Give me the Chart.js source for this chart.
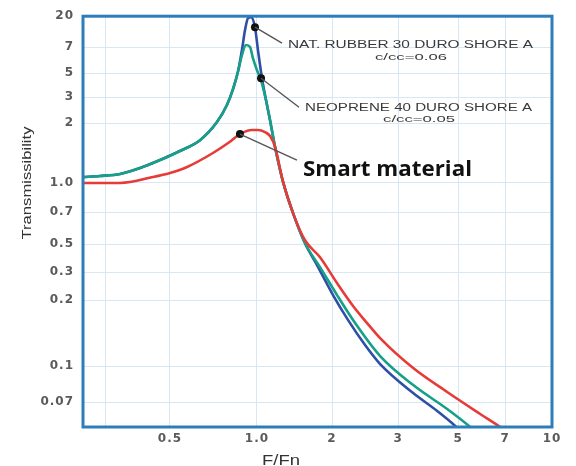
<!DOCTYPE html>
<html>
<head>
<meta charset="utf-8">
<script src="https://cdn.jsdelivr.net/npm/chart.js@4/dist/chart.umd.min.js"></script>
<style>
    html, body { margin: 0; padding: 0; background: #fff; }
</style>
</head>
<body>
<canvas id="transmissibility-chart" width="576" height="466"></canvas>
<script>
"use strict";

// curves: F/Fn and transmissibility
var rubberF = [0.25, 0.286, 0.336, 0.394, 0.462, 0.541, 0.635, 0.727, 0.787, 0.826, 0.860, 0.887, 0.909, 0.931, 0.953, 0.984, 1.009, 1.047, 1.087, 1.128, 1.181, 1.272, 1.395, 1.558, 1.741, 2.012, 2.207, 2.449, 2.686, 3.409, 4.182, 4.874, 5.036];
var rubberT = [1.071, 1.084, 1.110, 1.189, 1.304, 1.447, 1.64, 2.03, 2.65, 3.56, 5.13, 6.73, 12.45, 18.69, 19.33, 13.78, 6.73, 4.50, 2.86, 2.09, 1.52, 1.012, 0.693, 0.505, 0.341, 0.215, 0.162, 0.1247, 0.1021, 0.0765, 0.062, 0.0507, 0.048];

var neopreneF = [0.25, 0.286, 0.336, 0.394, 0.462, 0.541, 0.635, 0.727, 0.787, 0.826, 0.860, 0.887, 0.916, 0.946, 0.968, 1.0, 1.038, 1.087, 1.128, 1.181, 1.272, 1.395, 1.558, 1.790, 2.062, 2.304, 2.686, 3.409, 4.552, 5.449, 5.607];
var neopreneT = [1.071, 1.084, 1.110, 1.189, 1.304, 1.447, 1.64, 2.03, 2.65, 3.56, 5.13, 6.31, 7.49, 7.0, 6.07, 5.20, 4.30, 2.86, 2.09, 1.52, 1.012, 0.693, 0.505, 0.329, 0.215, 0.157, 0.111, 0.0828, 0.0637, 0.05, 0.0476];

var smartF = [0.25, 0.336, 0.437, 0.5, 0.573, 0.704, 0.806, 0.873, 0.961, 1.009, 1.077, 1.128, 1.181, 1.272, 1.395, 1.558, 1.790, 2.062, 2.275, 2.480, 2.686, 3.409, 4.552, 5.852, 6.755, 7.0];
var smartT = [1.0, 1.0, 1.071, 1.122, 1.203, 1.414, 1.61, 1.76, 1.845, 1.845, 1.80, 1.72, 1.52, 1.012, 0.693, 0.521, 0.394, 0.256, 0.188, 0.157, 0.134, 0.098, 0.0773, 0.0596, 0.05, 0.0476];

// black dots the labels point at
var calloutF = [0.984, 1.038, 0.873];
var calloutT = [13.78, 4.50, 1.76];

// tick labels
var xTicks = [0.3, 0.5, 1, 2, 3, 5, 7, 10];
var xTickLabels = ['', '0.5', '1.0', '2', '3', '5', '7', '10'];
var yTicks = [0.07, 0.1, 0.2, 0.3, 0.5, 0.7, 1, 2, 3, 5, 7, 20];
var yTickLabels = ['0.07', '0.1', '0.2', '0.3', '0.5', '0.7', '1.0', '2', '3', '5', '7', '20'];

// the printed axes are not evenly logarithmic, so map them piece by piece
// [value, fraction of axis length]
var xStops = [[0.25, 0], [0.5, 0.1855], [1, 0.371], [2, 0.531], [3, 0.672], [5, 0.8], [7, 0.9], [10, 1]];
var yStops = [[0.05, 0], [0.07, 0.0608], [0.1, 0.1484], [0.2, 0.309], [0.3, 0.377], [0.5, 0.445], [0.7, 0.523], [1, 0.594], [2, 0.740], [3, 0.803], [5, 0.861], [7, 0.925], [20, 1]];

function warp(stops, v) {
    var i = 0;
    while (i < stops.length - 2 && v > stops[i + 1][0]) i++;
    var a = stops[i], b = stops[i + 1];
    return a[1] + (b[1] - a[1]) * Math.log(v / a[0]) / Math.log(b[0] / a[0]);
}

function points(fs, ts) {
    return fs.map(function (f, i) {
        return { x: warp(xStops, f), y: warp(yStops, ts[i]) };
    });
}

// label text for each callout dot, offsets in px from the dot
var callouts = [
    { line: [27, 16], lines: [
        { text: 'NAT. RUBBER 30 DURO SHORE A', dx: 33, dy: 21, w: 245, font: '10px "Liberation Sans"', align: 'left' },
        { text: 'c/cc=0.06', dx: 156, dy: 33, w: 72, font: '9px "Liberation Sans"', align: 'center' }
    ] },
    { line: [38, 29], lines: [
        { text: 'NEOPRENE 40 DURO SHORE A', dx: 44, dy: 33, w: 227, font: '10px "Liberation Sans"', align: 'left' },
        { text: 'c/cc=0.05', dx: 158, dy: 44, w: 72, font: '9px "Liberation Sans"', align: 'center' }
    ] },
    { line: [57, 26], lines: [
        { text: 'Smart material', dx: 63, dy: 42, w: 169, font: 'bold 21px "Open Sans"', align: 'left', color: '#111' }
    ] }
];

function stretchText(ctx, text, x, y, w, font, color, align, rot) {
    ctx.save();
    ctx.letterSpacing = '0px';
    ctx.font = font;
    ctx.fillStyle = color;
    ctx.textBaseline = 'alphabetic';
    ctx.textAlign = align;
    var m = ctx.measureText(text).width;
    ctx.translate(x, y);
    if (rot) ctx.rotate(rot);
    ctx.scale(w / m, 1);
    ctx.fillText(text, 0, 0);
    ctx.restore();
}

var decorPlugin = {
    id: 'decor',
    beforeDraw: function (chart) {
        // printed tick numbers are wide, space them out a little
        chart.ctx.letterSpacing = '1px';
    },
    afterDatasetsDraw: function (chart) {
        var ctx = chart.ctx;
        var area = chart.chartArea;
        var xs = chart.scales.x, ys = chart.scales.y;

        // leader lines + labels
        calloutF.forEach(function (f, i) {
            var px = xs.getPixelForValue(warp(xStops, f));
            var py = ys.getPixelForValue(warp(yStops, calloutT[i]));
            var c = callouts[i];
            ctx.save();
            ctx.strokeStyle = '#555';
            ctx.lineWidth = 1.4;
            ctx.beginPath();
            ctx.moveTo(px, py);
            ctx.lineTo(px + c.line[0], py + c.line[1]);
            ctx.stroke();
            ctx.restore();
            c.lines.forEach(function (l) {
                stretchText(ctx, l.text, px + l.dx, py + l.dy, l.w, l.font, l.color || '#3a3a3a', l.align);
            });
        });

        // frame
        ctx.save();
        ctx.strokeStyle = '#2d7dba';
        ctx.lineWidth = 3;
        ctx.strokeRect(area.left, area.top, area.right - area.left, area.bottom - area.top);
        ctx.restore();

        // axis titles
        stretchText(ctx, 'F/Fn', 281, 465, 38, '14px "Liberation Sans"', '#333', 'center');
        stretchText(ctx, 'Transmissibility', 31, 183, 113, '13px "Liberation Sans"', '#333', 'center', -Math.PI / 2);
        ctx.letterSpacing = '0px';
    }
};

var tickFont = { family: '"DejaVu Sans"', size: 12, weight: 'bold' };

var chartConfig = {
    type: 'line',
    data: {
        datasets: [{
            label: 'callouts',
            data: points(calloutF, calloutT),
            showLine: false,
            pointRadius: 4,
            pointBackgroundColor: '#111',
            pointBorderWidth: 0
        }, {
            label: 'Smart material',
            data: points(smartF, smartT),
            borderColor: '#e63b37',
            borderWidth: 2.6,
            pointRadius: 0,
            cubicInterpolationMode: 'monotone'
        }, {
            label: 'Neoprene 40 Duro Shore A',
            data: points(neopreneF, neopreneT),
            borderColor: '#16a088',
            borderWidth: 2.6,
            pointRadius: 0,
            cubicInterpolationMode: 'monotone'
        }, {
            label: 'Nat. Rubber 30 Duro Shore A',
            data: points(rubberF, rubberT),
            borderColor: '#2d4fa6',
            borderWidth: 2.6,
            pointRadius: 0,
            cubicInterpolationMode: 'monotone'
        }]
    },
    options: {
        responsive: false,
        devicePixelRatio: 1,
        animation: false,
        layout: { padding: { top: 16, right: 24, left: 0, bottom: 0 } },
        plugins: {
            legend: { display: false },
            tooltip: { enabled: false }
        },
        scales: {
            x: {
                type: 'linear',
                min: 0,
                max: 1,
                afterBuildTicks: function (scale) {
                    scale.ticks = xTicks.map(function (v) { return { value: warp(xStops, v) }; });
                },
                afterFit: function (scale) { scale.height = 39; },
                ticks: {
                    autoSkip: false,
                    maxRotation: 0,
                    padding: 5,
                    color: '#5a5a5a',
                    font: tickFont,
                    callback: function (v, i) { return xTickLabels[i]; }
                },
                grid: { color: '#d9e7f4', drawTicks: false },
                border: { display: false }
            },
            y: {
                type: 'linear',
                min: 0,
                max: 1,
                afterBuildTicks: function (scale) {
                    scale.ticks = yTicks.map(function (v) { return { value: warp(yStops, v) }; });
                },
                afterFit: function (scale) { scale.width = 83; },
                ticks: {
                    autoSkip: false,
                    padding: 9,
                    color: '#5a5a5a',
                    font: tickFont,
                    callback: function (v, i) { return yTickLabels[i]; }
                },
                grid: { color: '#d9e7f4', drawTicks: false },
                border: { display: false }
            }
        }
    },
    plugins: [decorPlugin]
};

var transChart = new Chart(document.getElementById('transmissibility-chart'), chartConfig);
</script>
</body>
</html>
